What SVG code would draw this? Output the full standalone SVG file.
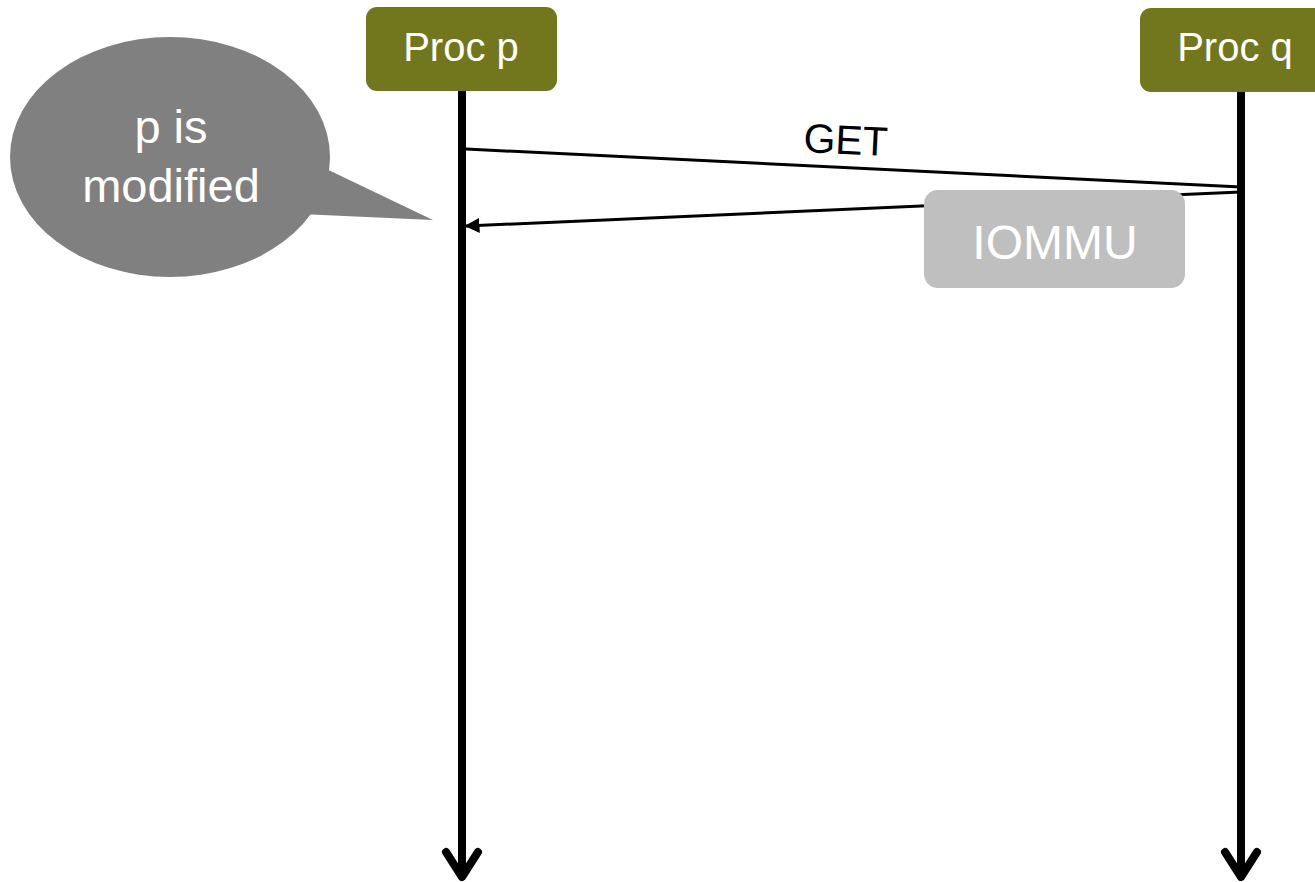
<svg xmlns="http://www.w3.org/2000/svg" width="1315" height="882" viewBox="0 0 1315 882">
  <style>
    .proc { fill: #72771e; }
    .proc-label { fill: #ffffff; font-family: "Liberation Sans", Arial, sans-serif; font-size: 40px; text-anchor: middle; }
    .lifeline { stroke: #000000; stroke-width: 8; fill: none; stroke-linecap: round; stroke-linejoin: round; }
    .msg { stroke: #000000; stroke-width: 3; fill: none; }
    .msg-label { fill: #000000; font-family: "Liberation Sans", Arial, sans-serif; font-size: 41px; text-anchor: middle; }
    .bubble { fill: #808080; }
    .bubble-label { fill: #ffffff; font-family: "Liberation Sans", Arial, sans-serif; font-size: 47px; text-anchor: middle; }
    .iommu { fill: #bfbfbf; }
    .iommu-label { fill: #ffffff; font-family: "Liberation Sans", Arial, sans-serif; font-size: 48px; text-anchor: middle; }
  </style>
  <defs>
    <marker id="arrow" viewBox="0 0 10 10" refX="9" refY="5" markerWidth="5" markerHeight="5" orient="auto" markerUnits="strokeWidth">
      <path d="M0,0 L10,5 L0,10 Z" fill="#000000"/>
    </marker>
  </defs>

  <rect width="1315" height="882" fill="#ffffff"/>

  <!-- connectors: lifelines and messages -->
  <g id="connectors">
    <line class="lifeline" x1="462" y1="91" x2="462" y2="876"/>
    <polyline class="lifeline" points="446,852 462,877 478,852"/>
    <line class="lifeline" x1="1241" y1="92" x2="1241" y2="876"/>
    <polyline class="lifeline" points="1225,852 1241,877 1257,852"/>
    <line id="msg-get" class="msg" x1="466" y1="149" x2="1241" y2="187"/>
    <line id="msg-reply" class="msg" x1="1241" y1="192" x2="466" y2="226" marker-end="url(#arrow)"/>
    <text class="msg-label" transform="translate(845,154) rotate(2.8)">GET</text>
  </g>

  <g id="proc-p">
    <rect class="proc" x="366" y="7" width="191" height="84" rx="11"/>
    <text class="proc-label" x="461" y="61">Proc p</text>
  </g>

  <g id="proc-q">
    <rect class="proc" x="1140" y="8" width="190" height="84" rx="11"/>
    <text class="proc-label" x="1235" y="61">Proc q</text>
  </g>

  <g id="note">
    <ellipse class="bubble" cx="170" cy="157" rx="160" ry="120"/>
    <path class="bubble" d="M318,165 L433,220 L300,214 Z"/>
    <text class="bubble-label" x="171" y="143">p is</text>
    <text class="bubble-label" x="171" y="202">modified</text>
  </g>

  <g id="iommu">
    <rect class="iommu" x="924" y="190" width="261" height="98" rx="14"/>
    <text class="iommu-label" x="1055" y="259">IOMMU</text>
  </g>
</svg>
